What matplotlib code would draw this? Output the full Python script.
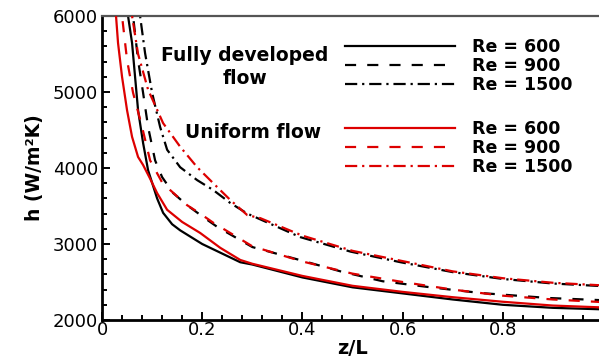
import matplotlib
matplotlib.use("Agg")
import matplotlib.pyplot as plt
from matplotlib.ticker import MultipleLocator

# ---- data ----
z_fd600 = [0.048, 0.052, 0.06, 0.066, 0.072, 0.082, 0.092, 0.11, 0.122, 0.14, 0.156, 0.2, 0.276, 0.3, 0.4, 0.5, 0.6, 0.7, 0.8, 0.9, 1.0]
h_fd600 = [6400, 6000, 5645, 5200, 4760, 4330, 3970, 3600, 3410, 3260, 3180, 3000, 2760, 2730, 2560, 2430, 2350, 2270, 2200, 2160, 2140]

z_fd900 = [0.059, 0.062, 0.072, 0.082, 0.092, 0.106, 0.12, 0.142, 0.17, 0.202, 0.23, 0.3, 0.4, 0.476, 0.56, 0.656, 0.756, 0.89, 1.0]
h_fd900 = [6400, 6000, 5420, 4990, 4540, 4100, 3880, 3670, 3510, 3355, 3225, 2960, 2780, 2640, 2510, 2430, 2355, 2290, 2260]

z_fd1500 = [0.073, 0.076, 0.086, 0.1, 0.116, 0.13, 0.156, 0.19, 0.222, 0.256, 0.29, 0.396, 0.496, 0.596, 0.7, 0.8, 0.9, 1.0]
h_fd1500 = [6400, 6000, 5510, 4990, 4540, 4240, 4010, 3840, 3710, 3540, 3400, 3090, 2900, 2760, 2630, 2540, 2480, 2445]

z_u600 = [0.026, 0.028, 0.032, 0.04, 0.05, 0.06, 0.072, 0.082, 0.096, 0.11, 0.13, 0.16, 0.196, 0.236, 0.276, 0.3, 0.4, 0.5, 0.6, 0.7, 0.8, 0.9, 1.0]
h_u600 = [6400, 6000, 5645, 5200, 4760, 4410, 4145, 4040, 3860, 3670, 3450, 3290, 3145, 2950, 2790, 2740, 2580, 2450, 2370, 2300, 2240, 2190, 2165]

z_u900 = [0.037, 0.04, 0.05, 0.062, 0.08, 0.096, 0.12, 0.136, 0.17, 0.196, 0.222, 0.3, 0.4, 0.5, 0.6, 0.7, 0.8, 0.9, 1.0]
h_u900 = [6400, 6000, 5420, 4990, 4540, 4100, 3810, 3710, 3510, 3400, 3280, 2970, 2770, 2610, 2500, 2400, 2320, 2270, 2235]

z_u1500 = [0.057, 0.06, 0.072, 0.092, 0.122, 0.156, 0.19, 0.222, 0.256, 0.29, 0.316, 0.4, 0.5, 0.6, 0.7, 0.8, 0.9, 1.0]
h_u1500 = [6400, 6000, 5500, 5030, 4590, 4280, 4010, 3800, 3580, 3380, 3340, 3110, 2910, 2775, 2640, 2550, 2490, 2455]

re_labels = ["Re = 600", "Re = 900", "Re = 1500"]
x_ticks = [0, 0.2, 0.4, 0.6, 0.8, 1.0]
x_ticklabels = ["0", "0.2", "0.4", "0.6", "0.8", ""]
y_ticks = [2000, 3000, 4000, 5000, 6000]
y_ticklabels = ["2000", "3000", "4000", "5000", "6000"]

RED = "#dd0000"
W, H = 599, 362
fig = plt.figure(figsize=(W / 100, H / 100), dpi=100)
plt.rcParams['font.family'] = ['DejaVu Sans']

ax = fig.add_axes([102 / W, (H - 320) / H, 501 / W, 304 / H])

lw = 1.6
dash = (0, (5.0, 5.0))
dashdot = (0, (5.5, 2.2, 1.0, 2.2))

fd_lines = []
fd_lines += ax.plot(z_fd600, h_fd600, color="black", lw=lw, ls="-", zorder=2)
fd_lines += ax.plot(z_fd900, h_fd900, color="black", lw=lw, ls=dash, zorder=2)
fd_lines += ax.plot(z_fd1500, h_fd1500, color="black", lw=lw, ls=dashdot, zorder=2)
u_lines = []
u_lines += ax.plot(z_u600, h_u600, color=RED, lw=lw, ls="-", zorder=3)
u_lines += ax.plot(z_u900, h_u900, color=RED, lw=lw, ls=dash, zorder=3)
u_lines += ax.plot(z_u1500, h_u1500, color=RED, lw=lw, ls=dashdot, zorder=3)

ax.set_xlim(0, 1)
ax.set_ylim(2000, 6000)
ax.set_xticks(x_ticks)
ax.set_xticklabels(x_ticklabels)
ax.set_yticks(y_ticks)
ax.set_yticklabels(y_ticklabels)
ax.xaxis.set_minor_locator(MultipleLocator(0.04))
ax.yaxis.set_minor_locator(MultipleLocator(200))
ax.tick_params(which="both", direction="in", top=False, right=False,
               labelsize=13, colors="black", width=1.4)
ax.tick_params(which="major", length=6)
ax.tick_params(which="minor", length=3.5)
ax.tick_params(axis="x", pad=1)
ax.tick_params(axis="y", pad=3)

for s in ["left", "bottom"]:
    ax.spines[s].set_linewidth(2.0)
    ax.spines[s].set_color("black")
ax.spines["top"].set_linewidth(1.6)
ax.spines["top"].set_color("#555555")
ax.spines["right"].set_visible(False)

ax.set_xlabel("z/L", fontsize=14, fontweight="bold", labelpad=0)
ax.set_ylabel("h (W/m²K)", fontsize=13.5, fontweight="bold", labelpad=6)

fs_leg = 12.5
fs_px = fs_leg * 100 / 72
common = dict(frameon=False, handlelength=110 / fs_px,
              handletextpad=17 / fs_px, labelspacing=0.07, borderpad=0,
              borderaxespad=0, loc="upper left", bbox_transform=fig.transFigure,
              prop={"weight": "bold", "size": fs_leg})
leg1 = ax.legend(fd_lines, re_labels, bbox_to_anchor=(345 / W, (H - 38) / H), **common)
ax.add_artist(leg1)
leg2 = ax.legend(u_lines, re_labels, bbox_to_anchor=(345 / W, (H - 120) / H), **common)

fig.text(245 / W, (H - 67) / H, "Fully developed\nflow", ha="center", va="center",
         fontsize=13.5, fontweight="bold", linespacing=1.3)
fig.text(253 / W, (H - 133) / H, "Uniform flow", ha="center", va="center",
         fontsize=13.5, fontweight="bold")

fig.savefig("out.png", dpi=100)
